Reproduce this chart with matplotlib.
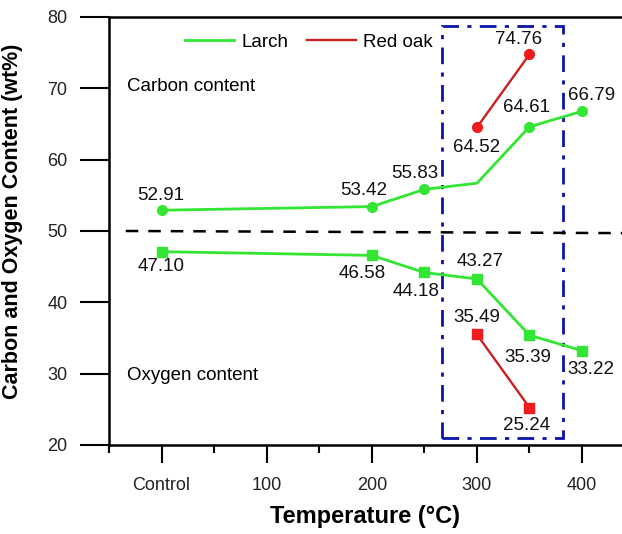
import matplotlib.pyplot as plt
from matplotlib.patches import Rectangle

plt.rcParams["font.family"] = ["Liberation Sans", "DejaVu Sans"]

# Larch (Control plotted at x = 0)
larch_temp = [0, 200, 250, 300, 350, 400]
larch_carbon = [52.91, 53.42, 55.83, 56.7, 64.61, 66.79]
larch_oxygen = [47.10, 46.58, 44.18, 43.27, 35.39, 33.22]

# Red oak
oak_temp = [300, 350]
oak_carbon = [64.52, 74.76]
oak_oxygen = [35.49, 25.24]

tick_pos = [0, 100, 200, 300, 400]
tick_labels = ["Control", "100", "200", "300", "400"]

green = "#33e633"
red_line = "#cc2020"
red_mark = "#ee1c1c"
blue = "#0c14a8"

fig = plt.figure(figsize=(6.22, 5.34), dpi=100)
ax = fig.add_axes([0.1752, 0.1667, 0.8248, 0.8015])

# carbon: larch 300 °C point has no marker in the original
ax.plot(larch_temp, larch_carbon, color=green, lw=2, marker="o", ms=7,
        markevery=[0, 1, 2, 4, 5], label="Larch")
ax.plot(larch_temp, larch_oxygen, color=green, lw=2, marker="s", ms=6.5)
ax.plot(oak_temp, oak_carbon, color=red_line, lw=1.7, marker="o", ms=7,
        mfc=red_mark, mec=red_mark, label="Red oak")
ax.plot(oak_temp, oak_oxygen, color=red_line, lw=1.7, marker="s", ms=6.5,
        mfc=red_mark, mec=red_mark)

# value labels: (x, y, dx px, dy px)
lab_off = [
    (0, 52.91, -1, 15), (200, 53.42, -8, 16), (250, 55.83, -10, 16),
    (350, 64.61, -3, 19), (400, 66.79, 10, 16),
    (300, 64.52, 0, -20), (350, 74.76, -11, 15),
    (0, 47.10, 0, -15), (200, 46.58, -10, -18), (250, 44.18, -8, -19),
    (300, 43.27, 3, 17), (350, 35.39, -2, -22), (400, 33.22, 9, -19),
    (300, 35.49, 0, 17), (350, 25.24, -3, -18),
]
for x, y, dx, dy in lab_off:
    ax.annotate(f"{y:.2f}", (x, y), xytext=(dx * 0.72, dy * 0.72),
                textcoords="offset points", ha="center", va="center",
                fontsize=13.5, color="#111111")

# separating dashed line at 50 wt%
ax.plot([-34, 440], [50, 49.7], color="black", lw=1.8, ls=(0, (5, 4)))

# highlight box around the 300-350 °C region
ax.add_patch(Rectangle((267, 21.0), 115, 57.7, fill=False, ec=blue, lw=2,
                       ls=(0, (6, 3, 1.5, 3)), zorder=1))

ax.text(-33, 70.3, "Carbon content", fontsize=13.5, va="center")
ax.text(-33, 29.8, "Oxygen content", fontsize=13.5, va="center")

ax.set_xlim(-50, 438)
ax.set_ylim(20, 80)
ax.set_xticks(tick_pos)
ax.set_xticklabels(tick_labels)
ax.set_xticks([50, 150, 250, 350, -50], minor=True)
ax.set_yticks([20, 30, 40, 50, 60, 70, 80])

ax.tick_params(axis="x", which="major", direction="out", length=13, width=1.5,
               labelsize=13, pad=10, labelcolor="#222222")
ax.tick_params(axis="x", which="minor", direction="out", length=6, width=1.5)
ax.tick_params(axis="y", direction="out", length=21, width=1.5,
               labelsize=13, pad=9, labelcolor="#222222")

for s in ["left", "bottom", "top"]:
    ax.spines[s].set_linewidth(1.8)
ax.spines["right"].set_visible(False)

ax.set_xlabel("Temperature (°C)", fontsize=17, fontweight="bold", labelpad=8)
ax.set_ylabel("Carbon and Oxygen Content (wt%)", fontsize=15.5,
              fontweight="bold")
ax.yaxis.set_label_coords(-0.168, 0.523)

ax.legend(loc="upper left", bbox_to_anchor=(0.115, 1.0), ncol=2, frameon=False,
          fontsize=13.5, handlelength=2.6, handletextpad=0.4,
          columnspacing=1.0, markerscale=0)

fig.savefig("out.png", dpi=100)
